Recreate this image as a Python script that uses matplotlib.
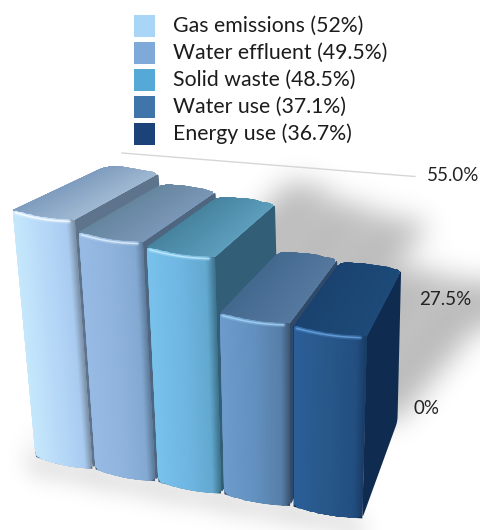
import numpy as np
import matplotlib
matplotlib.use("Agg")
import matplotlib.pyplot as plt
from matplotlib.colors import LinearSegmentedColormap
from matplotlib.patches import PathPatch, Rectangle
from matplotlib.path import Path

categories = ["Gas emissions", "Water effluent", "Solid waste", "Water use", "Energy use"]
values = [52, 49.5, 48.5, 37.1, 36.7]
value_labels = ["52%", "49.5%", "48.5%", "37.1%", "36.7%"]
tick_values = [0, 27.5, 55]
tick_labels = ["0%", "27.5%", "55.0%"]

legend_colors = ["#a9d6f7", "#7fa9d8", "#55a9d6", "#3f75a8", "#1b4379"]
front_colors = [
    ["#c6e8fc", "#b6d8f8", "#a9cbf0", "#7e93aa"],
    ["#97bbe4", "#8fb3dc", "#83a9d2", "#5f7c9c"],
    ["#78c2ec", "#6fb6e2", "#62a8cf", "#3f7690"],
    ["#6d9ccc", "#6290bf", "#577fa9", "#3f5875"],
    ["#2b5f99", "#285789", "#224e80", "#1a3d66"],
]
top_colors = [
    ["#7f9dbf", "#a0b8d2"],
    ["#66869f", "#7b97b8"],
    ["#47849f", "#5d9ebd"],
    ["#44698f", "#55789f"],
    ["#1a4270", "#1d4a78"],
]
side_colors = ["#5e748c", "#4f6680", "#335e78", "#2f4a68", "#0f2c50"]
highlight_colors = ["#ffffff", "#e3f1ff", "#c4ecff", "#a6d6fa", "#6aa6e6"]

BAR_WIDTH = 0.95
DEPTH = 0.17
VANISH = (569, -51)
FRONT_STOPS = [0, 0.5, 0.88, 1]


def project(u, value, depth=0.0):
    # category position, value and depth to a pixel position on the figure
    x0 = 36 + 58 * u + 1.6 * u ** 2
    y0 = 457 + 12.4 * u
    h = value * (4.75 + 0.045 * u)
    x = x0 - (295 - x0) * 0.00036 * h
    y = y0 - h
    return np.array([x + depth * (VANISH[0] - x), y + depth * (VANISH[1] - y)])


def wall_y(value):
    return 408 - 3.637 * value - 0.01057 * value ** 2


def wall_x(value):
    return 426 + 0.9 * value - 0.0075 * value ** 2


def edge(a, b, bulge, n=24):
    t = np.linspace(0, 1, n)[:, None]
    pts = a + (b - a) * t
    pts[:, 1] += bulge * np.sin(np.pi * t[:, 0])
    return pts


def round_corners(pts, corners):
    # corners maps a vertex index to its radius
    out = []
    n = len(pts)
    for i, p in enumerate(pts):
        r = corners.get(i)
        if not r:
            out.append(p)
            continue
        prev, nxt = pts[i - 1], pts[(i + 1) % n]
        a = p + (prev - p) / np.linalg.norm(prev - p) * r
        b = p + (nxt - p) / np.linalg.norm(nxt - p) * r
        for t in np.linspace(0, 1, 7):
            out.append((1 - t) ** 2 * a + 2 * t * (1 - t) * p + t ** 2 * b)
    return Path(np.array(out + [out[0]]))


def shaded_face(ax, path, i, v_range, d_range, stops, colors, zorder):
    # colour follows the bar's own width, so it leans with the bar
    cmap = LinearSegmentedColormap.from_list("face", list(zip(stops, colors)))
    us = np.linspace(i - 0.1, i + BAR_WIDTH + 0.1, 80)
    U, V = np.meshgrid(us, v_range)
    D = np.broadcast_to(np.array(d_range)[:, None], U.shape)
    X, Y = project(U, V, D)
    C = np.clip((U - i) / BAR_WIDTH, 0, 1)
    mesh = ax.pcolormesh(X, Y, C, cmap=cmap, vmin=0, vmax=1, shading="gouraud", zorder=zorder)
    mesh.set_clip_path(PathPatch(path, transform=ax.transData))


def blurred_mask(polys, sigma, w=480, h=530):
    gx, gy = np.meshgrid(np.arange(w) + 0.5, np.arange(h) + 0.5)
    grid = np.column_stack([gx.ravel(), gy.ravel()])
    mask = np.zeros(h * w)
    for poly in polys:
        mask = np.maximum(mask, Path(poly).contains_points(grid))
    mask = mask.reshape(h, w)
    radius = int(3 * sigma)
    k = np.exp(-0.5 * (np.arange(-radius, radius + 1) / sigma) ** 2)
    k /= k.sum()
    mask = np.pad(mask, radius, mode="edge")
    mask = np.apply_along_axis(np.convolve, 0, mask, k, mode="same")
    mask = np.apply_along_axis(np.convolve, 1, mask, k, mode="same")
    return mask[radius:-radius, radius:-radius]


def draw_shadow(ax, polys, sigma, alpha, zorder):
    mask = blurred_mask(polys, sigma)
    rgba = np.zeros(mask.shape + (4,))
    rgba[..., 3] = mask * alpha
    ax.imshow(rgba, extent=(0, 480, 530, 0), aspect="auto", zorder=zorder)


fig = plt.figure(figsize=(4.8, 5.3), dpi=100)
ax = fig.add_axes([0, 0, 1, 1])
plt.rcParams["font.family"] = ["Lato", "DejaVu Sans"]

# soft shadows thrown back to the right and along the front of the bars
back_polys = []
front_polys = []
for i, v in enumerate(values):
    r = i + BAR_WIDTH
    left = project(i, 0, DEPTH)
    right = project(r, 0, DEPTH)
    offset = np.array([3.1 * v, -3.65 * v])
    back_polys.append([left, right, right + offset, left + offset])
    fl, fr = project(i, 0), project(r, 0)
    front_polys.append([fl, fr, fr + (-4, 12), fl + (-8, 14), fl + (0, -40)])
draw_shadow(ax, back_polys, 14, 0.27, 1)
draw_shadow(ax, front_polys, 12, 0.2, 1)

for i, v in enumerate(values):
    r = i + BAR_WIDTH
    z = 3 + i
    tl, tr = project(i, v), project(r, v)
    bl, br = project(i, 0), project(r, 0)
    btl, btr = project(i, v, DEPTH), project(r, v, DEPTH)
    bbr = project(r, 0, DEPTH)

    side = round_corners(np.array([tr, btr, bbr, br]), {1: 3, 2: 5, 3: 5})
    ax.add_patch(PathPatch(side, facecolor=side_colors[i], edgecolor="none", zorder=z))

    top_edge = edge(tl, tr, 2.5)
    top_pts = np.vstack([top_edge, edge(btr, btl, -1.5, 10)])
    top = round_corners(top_pts, {len(top_edge): 5, len(top_edge) + 9: 8})
    shaded_face(ax, top, i, [v + 6, v + 6], [-0.03, DEPTH + 0.03], [0, 1], top_colors[i], z + 0.1)
    # the top face has to follow the value plane, not the raised grid row
    ax.collections[-1].set_visible(False)
    shaded_face(ax, top, i, [v, v], [-0.05, DEPTH + 0.05], [0, 1], top_colors[i], z + 0.1)

    bottom_edge = edge(br, bl, 2.5)
    front_pts = np.vstack([top_edge, bottom_edge])
    filler = Path(np.vstack([front_pts, front_pts[:1]]))
    ax.add_patch(PathPatch(filler, facecolor=side_colors[i], edgecolor="none", zorder=z + 0.05))
    front = round_corners(front_pts, {0: 3, len(top_edge) - 1: 3,
                                      len(top_edge): 7, len(front_pts) - 1: 7})
    shaded_face(ax, front, i, [-6, v + 4], [0, 0], FRONT_STOPS, front_colors[i], z + 0.2)

    shine = top_edge[1:-2] + (0, 2)
    ax.plot(shine[:, 0], shine[:, 1], color=highlight_colors[i], lw=3.2, alpha=0.25,
            solid_capstyle="round", zorder=z + 0.3)
    ax.plot(shine[:, 0], shine[:, 1], color=highlight_colors[i], lw=1.1, alpha=0.8,
            solid_capstyle="round", zorder=z + 0.3)

# top gridline and axis labels on the back wall
ax.plot([122, 415], [153, wall_y(55) + 0.5], color="#d6d6d6", lw=1, zorder=2)
for t, label in zip(tick_values, tick_labels):
    ax.text(wall_x(t), wall_y(t), label, fontsize=13.5, color="#222222",
            ha="center", va="center", zorder=10)

# legend
for i, (name, label) in enumerate(zip(categories, value_labels)):
    top = 15 + 27 * i
    ax.add_patch(Rectangle((133.5, top), 21.5, 21.5, facecolor=legend_colors[i],
                           edgecolor="none", zorder=10))
    ax.text(173, top + 10.5, f"{name} ({label})", fontsize=15.3, color="#1c1c1c",
            ha="left", va="center", zorder=10)

ax.set_xlim(0, 480)
ax.set_ylim(530, 0)
ax.axis("off")
fig.savefig("out.png", dpi=100, facecolor="white")
